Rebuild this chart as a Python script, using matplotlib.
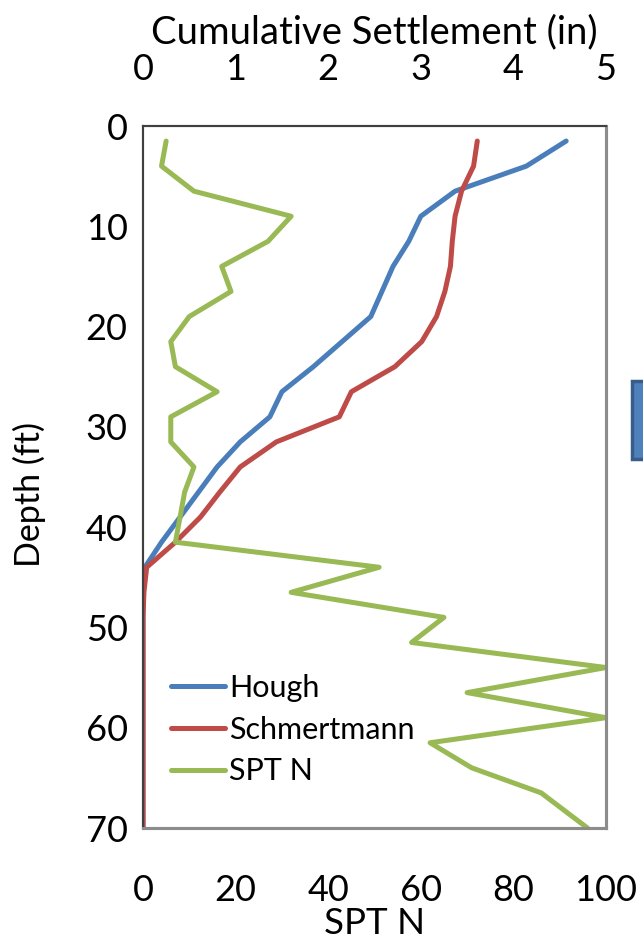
import matplotlib
matplotlib.use("Agg")
import matplotlib.pyplot as plt
from matplotlib.patches import Rectangle

plt.rcParams['font.family'] = ['Lato', 'DejaVu Sans']

# Depths (ft)
depth = [1.5, 4, 6.5, 9, 11.5, 14, 16.5, 19, 21.5, 24, 26.5, 29, 31.5, 34,
         36.5, 39, 41.5, 44, 46.5, 49, 51.5, 54, 56.5, 59, 61.5, 64, 66.5, 70]
# Cumulative settlement (in)
hough = [4.57, 4.14, 3.37, 3.00, 2.87, 2.70, 2.58, 2.46, 2.15, 1.84, 1.50, 1.37, 1.05, 0.80,
         0.60, 0.40, 0.20, 0.02, 0, 0, 0, 0, 0, 0, 0, 0, 0, 0]
schmertmann = [3.61, 3.57, 3.44, 3.37, 3.34, 3.32, 3.26, 3.17, 3.01, 2.72, 2.25, 2.12, 1.44, 1.05,
               0.83, 0.62, 0.35, 0.04, 0.01, 0, 0, 0, 0, 0, 0, 0, 0, 0]
# SPT N
spt_n = [5, 4, 11, 32, 27, 17, 19, 10, 6, 7, 16, 6, 6, 11,
         9, 8, 7, 51, 32, 65, 58, 100, 70, 100, 62, 71, 86, 96]

depth_ticks = [0, 10, 20, 30, 40, 50, 60, 70]
spt_ticks = [0, 20, 40, 60, 80, 100]
settle_ticks = [0, 1, 2, 3, 4, 5]

fig = plt.figure(figsize=(6.43, 9.46), dpi=100)
ax = fig.add_axes([143/643, 1-828/946, (606-143)/643, (828-126)/946])
ax2 = ax.twiny()

c_blue = '#4a7ebb'
c_red = '#be4b48'
c_green = '#98b954'
lw = 3.6

l1, = ax2.plot(hough, depth, color=c_blue, lw=lw, solid_capstyle='round', solid_joinstyle='round', label='Hough')
l2, = ax2.plot(schmertmann, depth, color=c_red, lw=lw, solid_capstyle='round', solid_joinstyle='round', label='Schmertmann')
l3, = ax.plot(spt_n, depth, color=c_green, lw=lw, solid_capstyle='round', solid_joinstyle='round', label='SPT N')
ax.set_zorder(ax2.get_zorder() + 1)
ax.patch.set_visible(False)

ax.set_ylim(70, 0)
ax.set_xlim(0, 100)
ax2.set_xlim(0, 5)
ax.set_yticks(depth_ticks)
ax.set_xticks(spt_ticks)
ax2.set_xticks(settle_ticks)

fs = 26
for a in (ax, ax2):
    a.tick_params(length=0, labelsize=fs)
ax.tick_params(axis='y', pad=11)
ax.tick_params(axis='x', pad=33)
ax2.tick_params(axis='x', pad=29)

ax.set_xlabel('SPT N', fontsize=26.5, labelpad=0)
ax.set_ylabel('Depth (ft)', fontsize=24.5)
ax.yaxis.set_label_coords(-0.21, 0.475)
ax2.set_xlabel('Cumulative Settlement (in)', fontsize=27.5, labelpad=7)

for a in (ax, ax2):
    a.spines['left'].set_color('#404040')
    a.spines['top'].set_color('#404040')
    a.spines['right'].set_color('#8c8c8c')
    a.spines['bottom'].set_color('#8c8c8c')
    a.spines['left'].set_linewidth(1.5)
    a.spines['top'].set_linewidth(1.5)
    a.spines['right'].set_linewidth(2.2)
    a.spines['bottom'].set_linewidth(2.2)

leg = ax.legend(handles=[l1, l2, l3], loc='upper left', bbox_to_anchor=(0.035, 0.237),
                frameon=False, fontsize=22, handlelength=1.75, handletextpad=0.15,
                labelspacing=0.45, borderaxespad=0)

fig.patches.append(Rectangle((632/643, 1-459/946), 0.03, 78/946, transform=fig.transFigure,
                             facecolor='#4f81bd', edgecolor='#385d8a', linewidth=2.5))

fig.savefig('out.png', dpi=100)
